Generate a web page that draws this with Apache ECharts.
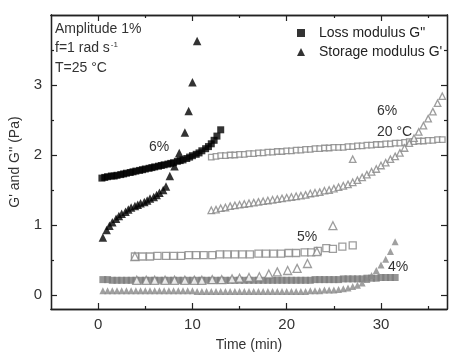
<!DOCTYPE html>
<html>
<head>
<meta charset="utf-8">
<script src="https://cdn.jsdelivr.net/npm/echarts@6/dist/echarts.min.js"></script>
<style>
  html, body { margin: 0; padding: 0; background: #fff; }
  #chart { width: 450px; height: 357px; }
</style>
</head>
<body>
<div id="chart"></div>
<script>
// 6%, 25 °C  loss modulus G'' (black squares)
const lossTime6 = [0.4, 0.7, 1.0, 1.4, 1.7, 2.0, 2.4, 2.7, 3.0, 3.4, 3.7, 4.0, 4.4, 4.7, 5.0, 5.4, 5.7, 6.0, 6.4, 6.7,
  7.0, 7.4, 7.7, 8.0, 8.4, 8.7, 9.0, 9.4, 9.7, 10.0, 10.4, 10.7, 11.0, 11.4, 11.7, 12.0, 12.3, 12.6, 13.0];
const lossVal6 = [1.67, 1.68, 1.69, 1.70, 1.70, 1.71, 1.72, 1.73, 1.74, 1.75, 1.76, 1.77, 1.78, 1.79, 1.80, 1.81, 1.82, 1.83, 1.84, 1.85,
  1.86, 1.87, 1.88, 1.89, 1.91, 1.92, 1.93, 1.95, 1.97, 1.99, 2.01, 2.03, 2.06, 2.09, 2.12, 2.16, 2.21, 2.27, 2.36];

// 6%, 25 °C  storage modulus G' (black triangles)
const storTime6 = [0.5, 0.9, 1.2, 1.5, 1.9, 2.2, 2.5, 2.9, 3.2, 3.5, 3.9, 4.2, 4.5, 4.9, 5.2, 5.5, 5.9, 6.2, 6.5, 6.9,
  7.2, 7.6, 8.1, 8.6, 9.2, 9.6, 10.0, 10.5];
const storVal6 = [0.82, 0.93, 0.99, 1.04, 1.09, 1.13, 1.16, 1.19, 1.22, 1.25, 1.27, 1.29, 1.31, 1.33, 1.35, 1.38, 1.40, 1.43, 1.46, 1.50,
  1.55, 1.70, 1.84, 2.03, 2.32, 2.63, 3.04, 3.63];

// 6%, 20 °C  G'' (grey open squares)
const lossTime20 = [12.0, 12.5, 13.0, 13.5, 14.0, 14.5, 15.0, 15.5, 16.0, 16.5, 17.0, 17.5, 18.0, 18.5, 19.0, 19.5, 20.0,
  20.5, 21.0, 21.5, 22.0, 22.5, 23.0, 23.5, 24.0, 24.5, 25.0, 25.5, 26.0, 26.5, 27.0, 27.5, 28.0, 28.5, 29.0, 29.5,
  30.0, 30.5, 31.0, 31.5, 32.0, 32.5, 33.0, 33.5, 34.0, 34.5, 35.0, 35.5, 36.0, 36.5];
const lossVal20 = [1.97, 1.98, 1.99, 1.99, 2.00, 2.00, 2.01, 2.01, 2.02, 2.02, 2.03, 2.03, 2.04, 2.04, 2.05, 2.05, 2.06,
  2.06, 2.07, 2.07, 2.08, 2.08, 2.09, 2.09, 2.10, 2.10, 2.11, 2.11, 2.11, 2.12, 2.12, 2.13, 2.13, 2.14, 2.14, 2.15,
  2.15, 2.16, 2.16, 2.17, 2.17, 2.18, 2.19, 2.19, 2.20, 2.20, 2.21, 2.21, 2.22, 2.22];

// 6%, 20 °C  G' (grey open triangles)
const storTime20 = [12.0, 12.5, 13.0, 13.5, 14.0, 14.5, 15.0, 15.5, 16.0, 16.5, 17.0, 17.5, 18.0, 18.5, 19.0, 19.5, 20.0,
  20.5, 21.0, 21.5, 22.0, 22.5, 23.0, 23.5, 24.0, 24.5, 25.0, 25.5, 26.0, 26.5, 27.0, 27.5, 28.0, 28.5, 29.0, 29.5,
  30.0, 30.5, 31.0, 31.5, 32.0, 32.5, 33.0, 33.5, 34.0, 34.5, 35.0, 35.5, 36.0, 36.5, 27.0];
const storVal20 = [1.21, 1.22, 1.24, 1.25, 1.27, 1.28, 1.29, 1.30, 1.31, 1.32, 1.33, 1.34, 1.35, 1.36, 1.37, 1.38, 1.39,
  1.40, 1.41, 1.42, 1.43, 1.45, 1.46, 1.47, 1.49, 1.50, 1.52, 1.54, 1.56, 1.58, 1.61, 1.64, 1.68, 1.72, 1.76, 1.80,
  1.85, 1.89, 1.94, 1.98, 2.03, 2.10, 2.17, 2.24, 2.33, 2.42, 2.52, 2.62, 2.74, 2.84, 1.94];

// 5%  G'' (grey open squares)
const lossTime5 = [3.9, 4.7, 5.5, 6.3, 7.2, 8.0, 8.8, 9.6, 10.4, 11.2, 12.1, 12.9, 13.7, 14.5, 15.3, 16.1, 17.0, 17.8,
  18.6, 19.4, 20.2, 21.0, 21.9, 22.6, 23.3, 24.2, 24.9, 25.9, 27.0];
const lossVal5 = [0.55, 0.55, 0.55, 0.56, 0.56, 0.56, 0.56, 0.57, 0.57, 0.57, 0.57, 0.58, 0.58, 0.58, 0.58, 0.58, 0.59, 0.59,
  0.59, 0.59, 0.60, 0.60, 0.61, 0.61, 0.63, 0.67, 0.66, 0.69, 0.71];

// 5%  G' (grey open triangles)
const storTime5 = [3.9, 4.1, 5.1, 6.0, 7.1, 8.1, 9.2, 10.2, 11.0, 12.1, 13.1, 14.2, 15.0, 16.0, 17.1, 18.1, 19.0, 20.1,
  21.1, 22.2, 23.2, 24.9];
const storVal5 = [0.55, 0.21, 0.21, 0.21, 0.21, 0.21, 0.21, 0.21, 0.21, 0.22, 0.22, 0.23, 0.24, 0.25, 0.26, 0.30, 0.33, 0.35,
  0.38, 0.45, 0.62, 0.99];

// 4%  G'' (grey filled squares, dense band)
const lossTime4 = [0.5, 1.0, 1.5, 2.0, 2.5, 3.0, 3.5, 4.0, 4.5, 5.0, 5.5, 6.0, 6.5, 7.0, 7.5, 8.0, 8.5, 9.0, 9.5, 10.0,
  10.5, 11.0, 11.5, 12.0, 12.5, 13.0, 13.5, 14.0, 14.5, 15.0, 15.5, 16.0, 16.5, 17.0, 17.5, 18.0, 18.5, 19.0, 19.5, 20.0,
  20.5, 21.0, 21.5, 22.0, 22.5, 23.0, 23.5, 24.0, 24.5, 25.0, 25.5, 26.0, 26.5, 27.0, 27.5, 28.0, 28.5, 29.0, 29.5, 30.0,
  30.5, 31.0, 31.5];
const lossVal4 = [0.22, 0.22, 0.21, 0.21, 0.21, 0.21, 0.21, 0.21, 0.21, 0.21, 0.21, 0.21, 0.21, 0.21, 0.21, 0.21, 0.21, 0.21, 0.21, 0.21,
  0.21, 0.21, 0.21, 0.21, 0.21, 0.21, 0.21, 0.21, 0.21, 0.21, 0.21, 0.21, 0.21, 0.21, 0.21, 0.21, 0.21, 0.21, 0.21, 0.21,
  0.21, 0.21, 0.21, 0.21, 0.21, 0.22, 0.22, 0.22, 0.22, 0.22, 0.22, 0.23, 0.23, 0.23, 0.23, 0.23, 0.24, 0.24, 0.24, 0.25,
  0.25, 0.25, 0.25];

// 4%  G' (grey filled triangles)
const storTime4 = lossTime4;
const storVal4 = [0.06, 0.06, 0.06, 0.06, 0.06, 0.06, 0.06, 0.06, 0.06, 0.06, 0.06, 0.06, 0.06, 0.06, 0.06, 0.06, 0.06, 0.06, 0.06, 0.06,
  0.05, 0.05, 0.05, 0.05, 0.05, 0.05, 0.05, 0.05, 0.05, 0.05, 0.05, 0.05, 0.05, 0.05, 0.05, 0.05, 0.05, 0.05, 0.05, 0.05,
  0.05, 0.05, 0.05, 0.05, 0.06, 0.06, 0.06, 0.07, 0.07, 0.07, 0.08, 0.09, 0.10, 0.12, 0.14, 0.17, 0.22, 0.28, 0.35, 0.43,
  0.51, 0.62, 0.76];

const xMajorTicks = [0, 10, 20, 30];
const xMinorTicks = [5, 15, 25, 35];
const yMajorTicks = [0, 1, 2, 3];
const yMinorTicks = [0.5, 1.5, 2.5, 3.5];

const zip = (xs, ys) => xs.map((x, i) => [x, ys[i]]);

const FONT = "Liberation Sans";
const grey = "#858585";
const chart = echarts.init(document.getElementById("chart"));

function makeX(pos, ticks, len, showLabel) {
  return {
    type: "value", position: pos, min: -5, max: 37,
    axisLine: { show: true, onZero: false, lineStyle: { color: "#222", width: 1.3 } },
    axisTick: { show: true, inside: true, length: len, customValues: ticks, lineStyle: { color: "#222", width: 1.2 } },
    axisLabel: showLabel ? { show: true, customValues: ticks, margin: 8, fontSize: 15, fontFamily: FONT, color: "#333" } : { show: false },
    splitLine: { show: false },
  };
}
function makeY(pos, ticks, len, showLabel) {
  return {
    type: "value", position: pos, min: -0.2, max: 4,
    axisLine: { show: true, onZero: false, lineStyle: { color: "#222", width: 1.3 } },
    axisTick: { show: true, inside: true, length: len, customValues: ticks, lineStyle: { color: "#222", width: 1.2 } },
    axisLabel: showLabel ? { show: true, customValues: ticks, margin: 9, fontSize: 15, fontFamily: FONT, color: "#333" } : { show: false },
    splitLine: { show: false },
  };
}

const xAxes = [
  makeX("bottom", xMajorTicks, 6, true),
  makeX("bottom", xMinorTicks, 3, false),
  makeX("top", xMajorTicks, 6, false),
  makeX("top", xMinorTicks, 3, false),
];
xAxes[0].name = "Time (min)";
xAxes[0].nameLocation = "middle";
xAxes[0].nameGap = 29;
xAxes[0].nameTextStyle = { fontSize: 14, fontFamily: FONT, color: "#333" };

const yAxes = [
  makeY("left", yMajorTicks, 6, true),
  makeY("left", yMinorTicks, 3, false),
  makeY("right", yMajorTicks, 6, false),
  makeY("right", yMinorTicks, 3, false),
];
yAxes[0].name = "G' and G'' (Pa)";
yAxes[0].nameLocation = "middle";
yAxes[0].nameGap = 29;
yAxes[0].nameTextStyle = { fontSize: 14, fontFamily: FONT, color: "#333" };

function sc(name, data, symbol, size, style) {
  return { type: "scatter", name: name, data: data, symbol: symbol, symbolSize: size, itemStyle: style, animation: false };
}

const openGrey = { color: "#fff", borderColor: grey, borderWidth: 1.3 };

const option = {
  backgroundColor: "#fff",
  grid: { left: 46, right: 3, top: 15, bottom: 46 },
  xAxis: xAxes,
  yAxis: yAxes,
  legend: {
    orient: "vertical", left: 292, top: 21, itemGap: 5, itemWidth: 8, itemHeight: 8,
    textStyle: { fontSize: 14, fontFamily: FONT, color: "#222", padding: [0, 0, 0, 9] },
    data: [
      { name: 'Loss modulus G"', icon: "rect", itemStyle: { color: "#000" } },
      { name: "Storage modulus G'", icon: "triangle", itemStyle: { color: "#000" } },
    ],
  },
  series: [
    sc("4% G''", zip(lossTime4, lossVal4), "rect", 7, { color: "#7a7a7a" }),
    sc("4% G'", zip(storTime4, storVal4), "triangle", 7, { color: "#888" }),
    sc("5% G''", zip(lossTime5, lossVal5), "rect", 7, openGrey),
    sc("5% G'", zip(storTime5, storVal5), "triangle", 8, openGrey),
    sc("20 G''", zip(lossTime20, lossVal20), "rect", 5.5, openGrey),
    sc("20 G'", zip(storTime20, storVal20), "triangle", 6.5, openGrey),
    sc('Loss modulus G"', zip(lossTime6, lossVal6), "rect", 7, { color: "#000" }),
    sc("Storage modulus G'", zip(storTime6, storVal6), "triangle", 8.5, { color: "#000" }),
  ],
  graphic: [
    { type: "text", left: 55, top: 22, style: { text: "Amplitude 1%", font: "14px " + FONT, fill: "#333" } },
    { type: "text", left: 55, top: 41, style: { text: "{a|f=1 rad s}{s|-1}", rich: { a: { font: "14px " + FONT, fill: "#333" }, s: { font: "8px " + FONT, fill: "#333", verticalAlign: "top", padding: [0, 0, 7, 1] } } } },
    { type: "text", left: 55, top: 61, style: { text: "T=25 °C", font: "14px " + FONT, fill: "#333" } },
    { type: "text", left: 149, top: 140, style: { text: "6%", font: "14px " + FONT, fill: "#333" } },
    { type: "text", left: 377, top: 104, style: { text: "6%", font: "14px " + FONT, fill: "#333" } },
    { type: "text", left: 377, top: 125, style: { text: "20 °C", font: "14px " + FONT, fill: "#333" } },
    { type: "text", left: 297, top: 230, style: { text: "5%", font: "14px " + FONT, fill: "#333" } },
    { type: "text", left: 388, top: 260, style: { text: "4%", font: "14px " + FONT, fill: "#333" } },
  ],
};
chart.setOption(option);
</script>
</body>
</html>
